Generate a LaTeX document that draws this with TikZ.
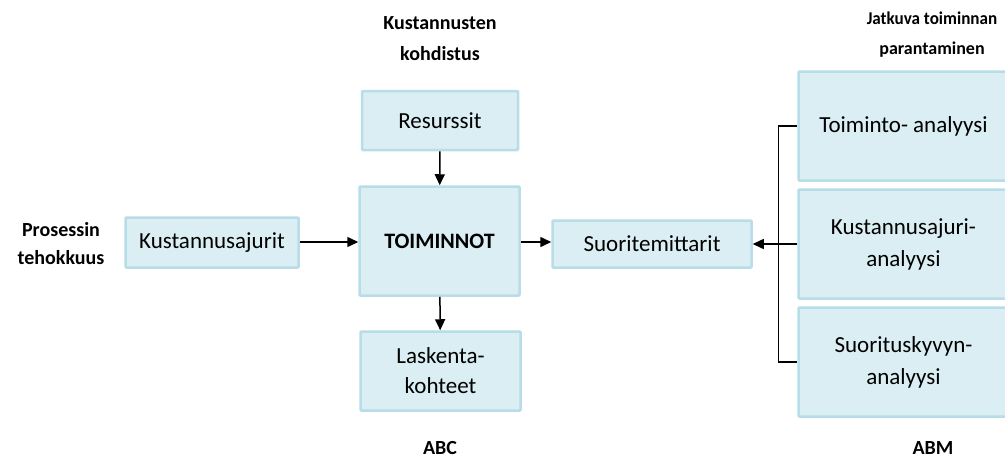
\documentclass[tikz,border=0pt]{standalone}
\usepackage{fontspec}
\setmainfont{Carlito}
\usetikzlibrary{arrows.meta}
\definecolor{boxfill}{HTML}{DAEEF3}
\definecolor{boxline}{HTML}{B7DDE8}
\begin{document}
\begin{tikzpicture}[x=1pt,y=-1pt,
  box/.style={draw=boxline, fill=boxfill, line width=2.5pt, rounded corners=1pt,
    align=center, font=\fontsize{23}{31}\selectfont, inner sep=0pt},
  head/.style={font=\bfseries\fontsize{20}{31}\selectfont, align=center},
  conn/.style={line width=1.5pt, -{Triangle[length=11pt,width=10pt]}},
  link/.style={line width=1.5pt}]
\useasboundingbox (0,0) rectangle (1005,461);
% ABC part
\node[box, minimum width=156pt, minimum height=59pt] (res) at (440,120.5) {Resurssit};
\node[box, minimum width=160pt, minimum height=109pt, font=\bfseries\fontsize{22}{31}\selectfont] (act) at (439.5,241) {TOIMINNOT};
\node[box, minimum width=173pt, minimum height=50pt] (drv) at (212,242.5) {Kustannusajurit};
\node[box, minimum width=199pt, minimum height=47pt] (perf) at (652,244) {Suoritemittarit};
\node[box, minimum width=160pt, minimum height=79pt, font=\fontsize{23}{30}\selectfont] (obj) at (440.5,371) {Laskenta-\\kohteet};
% ABM part
\node[box, minimum width=210pt, minimum height=109pt] (a1) at (903.5,126) {Toiminto- analyysi};
\node[box, minimum width=210pt, minimum height=109pt, font=\fontsize{23}{32}\selectfont] (a2) at (903.5,244) {Kustannusajuri-\\analyysi};
\node[box, minimum width=210pt, minimum height=109pt, font=\fontsize{23}{32}\selectfont] (a3) at (903.5,362) {Suorituskyvyn-\\analyysi};
% headings
\node[head] (h1) at (440,39) {Kustannusten\\kohdistus};
\node[head, font=\bfseries\fontsize{18}{30}\selectfont] (h2) at (932,35) {\scalebox{0.95}[1]{Jatkuva toiminnan}\\parantaminen};
\node[head, font=\bfseries\fontsize{20}{28}\selectfont] (h3) at (61,244) {Prosessin\\tehokkuus};
\node[head] (abc) at (440,448) {ABC};
\node[head] (abm) at (933,448) {ABM};
% connectors
\draw[conn] (res) -- (act);
\draw[conn] (act) -- (obj);
\draw[conn] (drv.east |- 0,242) -- (act.west |- 0,242);
\draw[conn] (act.east |- 0,242) -- (perf.west |- 0,242);
\draw[conn] (a2.west) -- (a2.west -| perf.east);
\draw[link] (a1.west) -- ++(-19,0) |- (a3.west);
\end{tikzpicture}
\end{document}
